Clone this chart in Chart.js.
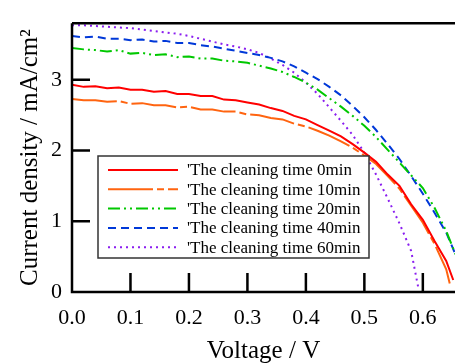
<!DOCTYPE html>
<html>
<head>
<meta charset="utf-8">
<script src="https://cdn.jsdelivr.net/npm/chart.js@4/dist/chart.umd.min.js"></script>
<style>
  html, body { margin: 0; padding: 0; background: #fff; }
  #wrap { width: 455px; height: 364px; }
</style>
</head>
<body>
<div id="wrap"><canvas id="ivChart" width="455" height="364"></canvas></div>
<script>
// tick labels
const xTicks = [0, 0.1, 0.2, 0.3, 0.4, 0.5, 0.6];
const yTicks = [0, 1, 2, 3];

// series labels
const seriesLabels = [
  "'The cleaning time 0min",
  "'The cleaning time 10min",
  "'The cleaning time 20min",
  "'The cleaning time 40min",
  "'The cleaning time 60min"
];

// voltage (V) for each curve
const v0min  = [0,0.02,0.04,0.06,0.08,0.10,0.12,0.14,0.16,0.18,0.20,0.22,0.24,0.26,0.28,0.30,0.32,0.34,0.36,0.38,0.40,0.42,0.44,0.46,0.48,0.50,0.52,0.54,0.56,0.58,0.60,0.62,0.64,0.652];
const v10min = [0,0.02,0.04,0.06,0.08,0.10,0.12,0.14,0.16,0.18,0.20,0.22,0.24,0.26,0.28,0.30,0.32,0.34,0.36,0.38,0.40,0.42,0.44,0.46,0.48,0.50,0.52,0.54,0.56,0.58,0.60,0.62,0.64,0.646];
const v20min = [0,0.02,0.04,0.06,0.08,0.10,0.12,0.14,0.16,0.18,0.20,0.22,0.24,0.26,0.28,0.30,0.32,0.34,0.36,0.38,0.40,0.42,0.44,0.46,0.48,0.50,0.52,0.54,0.56,0.58,0.60,0.62,0.64,0.66];
const v40min = [0,0.02,0.04,0.06,0.08,0.10,0.12,0.14,0.16,0.18,0.20,0.22,0.24,0.26,0.28,0.30,0.32,0.34,0.36,0.38,0.40,0.42,0.44,0.46,0.48,0.50,0.52,0.54,0.56,0.58,0.60,0.62,0.64,0.66];
const v60min = [0,0.02,0.04,0.06,0.08,0.10,0.12,0.14,0.16,0.18,0.20,0.22,0.24,0.26,0.28,0.30,0.32,0.34,0.36,0.38,0.40,0.42,0.44,0.46,0.48,0.50,0.52,0.54,0.56,0.58,0.592];

// current density (mA/cm2)
const j0min  = [2.93,2.90,2.91,2.88,2.89,2.86,2.86,2.83,2.84,2.80,2.80,2.77,2.77,2.72,2.71,2.68,2.65,2.60,2.56,2.49,2.44,2.36,2.28,2.20,2.09,1.97,1.84,1.66,1.50,1.24,1.02,0.72,0.44,0.17];
const j10min = [2.73,2.71,2.71,2.69,2.70,2.66,2.67,2.64,2.64,2.61,2.62,2.58,2.58,2.55,2.55,2.51,2.50,2.46,2.44,2.38,2.34,2.28,2.21,2.13,2.04,1.93,1.81,1.64,1.46,1.22,0.98,0.68,0.32,0.12];
const j20min = [3.45,3.43,3.42,3.40,3.42,3.37,3.38,3.35,3.36,3.32,3.33,3.30,3.30,3.27,3.26,3.24,3.20,3.16,3.11,3.04,2.96,2.86,2.74,2.62,2.49,2.35,2.19,2.01,1.83,1.65,1.47,1.19,0.86,0.45];
const j40min = [3.62,3.60,3.61,3.58,3.58,3.56,3.57,3.54,3.55,3.52,3.52,3.49,3.47,3.44,3.41,3.38,3.35,3.31,3.26,3.19,3.10,3.01,2.90,2.78,2.63,2.47,2.29,2.09,1.88,1.64,1.39,1.12,0.84,0.45];
const j60min = [3.77,3.77,3.76,3.75,3.74,3.73,3.71,3.69,3.67,3.65,3.62,3.58,3.54,3.50,3.47,3.43,3.38,3.30,3.21,3.10,2.96,2.80,2.61,2.42,2.22,1.97,1.66,1.32,0.97,0.58,0.07];

const colors = ['#ff0000', '#ff6410', '#00c800', '#0038d8', '#8a1ef0'];
const dashes = [[], [45, 4, 7, 4], [12, 4, 2, 4, 2, 4], [8, 5], [2, 4]];

function pts(v, j) {
  return v.map((x, i) => ({ x: x, y: j[i] }));
}

const allV = [v0min, v10min, v20min, v40min, v60min];
const allJ = [j0min, j10min, j20min, j40min, j60min];

const datasets = seriesLabels.map((lab, i) => ({
  label: lab,
  data: pts(allV[i], allJ[i]),
  borderColor: colors[i],
  borderWidth: 2,
  borderDash: dashes[i],
  pointRadius: 0,
  fill: false,
  tension: 0
}));

const FONT = "'Liberation Serif', 'Times New Roman', serif";

// frame, inside ticks and the boxed legend
const framePlugin = {
  id: 'framePlugin',
  afterDraw(chart) {
    const ctx = chart.ctx;
    const a = chart.chartArea;
    const xs = chart.scales.x, ys = chart.scales.y;
    ctx.save();
    ctx.strokeStyle = '#000';
    ctx.lineWidth = 2.5;
    ctx.beginPath();
    ctx.moveTo(a.left, a.top);
    ctx.lineTo(a.right, a.top);
    ctx.moveTo(a.left, a.top);
    ctx.lineTo(a.left, a.bottom);
    ctx.lineTo(a.right, a.bottom);
    xTicks.forEach(v => {
      if (v === 0) return;
      const px = xs.getPixelForValue(v);
      ctx.moveTo(px, a.bottom);
      ctx.lineTo(px, a.bottom - 19);
    });
    yTicks.forEach(v => {
      if (v === 0) return;
      const py = ys.getPixelForValue(v);
      ctx.moveTo(a.left, py);
      ctx.lineTo(a.left + 18, py);
    });
    ctx.stroke();

    // legend
    const bx = 98, by = 156, bw = 271, bh = 102;
    ctx.fillStyle = '#fff';
    ctx.fillRect(bx, by, bw, bh);
    ctx.strokeStyle = '#333';
    ctx.lineWidth = 1.5;
    ctx.strokeRect(bx, by, bw, bh);
    ctx.font = '17px ' + FONT;
    ctx.textBaseline = 'middle';
    ctx.textAlign = 'left';
    chart.data.datasets.forEach((ds, i) => {
      const y = 170 + i * 19.3;
      ctx.strokeStyle = ds.borderColor;
      ctx.lineWidth = 2;
      ctx.setLineDash(ds.borderDash);
      ctx.beginPath();
      ctx.moveTo(108, y);
      ctx.lineTo(178, y);
      ctx.stroke();
      ctx.setLineDash([]);
      ctx.fillStyle = '#000';
      ctx.fillText(ds.label, 187, y + 1);
    });
    ctx.restore();
  }
};

new Chart(document.getElementById('ivChart'), {
  type: 'line',
  data: { datasets: datasets },
  options: {
    responsive: false,
    animation: false,
    layout: { padding: { top: 15, right: 0, left: 0, bottom: 0 } },
    plugins: {
      legend: { display: false },
      tooltip: { enabled: false }
    },
    scales: {
      x: {
        type: 'linear',
        min: 0,
        max: 0.655,
        afterBuildTicks: s => { s.ticks = xTicks.map(v => ({ value: v })); },
        afterFit: s => { s.height = 72; },
        grid: { display: false, drawTicks: false },
        border: { display: false },
        ticks: {
          color: '#000',
          font: { family: FONT, size: 22 },
          padding: 13,
          maxRotation: 0,
          callback: v => Number(v).toFixed(1)
        },
        title: {
          display: true,
          text: 'Voltage / V',
          color: '#000',
          font: { family: FONT, size: 25, lineHeight: 1 },
          padding: { top: 0, bottom: 0 }
        }
      },
      y: {
        type: 'linear',
        min: 0,
        max: 3.8,
        afterBuildTicks: s => { s.ticks = yTicks.map(v => ({ value: v })); },
        afterFit: s => { s.width = 72; },
        grid: { display: false, drawTicks: false },
        border: { display: false },
        ticks: {
          color: '#000',
          font: { family: FONT, size: 22 },
          padding: 10
        },
        title: {
          display: true,
          text: 'Current density / mA/cm²',
          color: '#000',
          font: { family: FONT, size: 25, lineHeight: 1 },
          padding: { top: 18, bottom: 0 }
        }
      }
    }
  },
  plugins: [framePlugin]
});
</script>
</body>
</html>
